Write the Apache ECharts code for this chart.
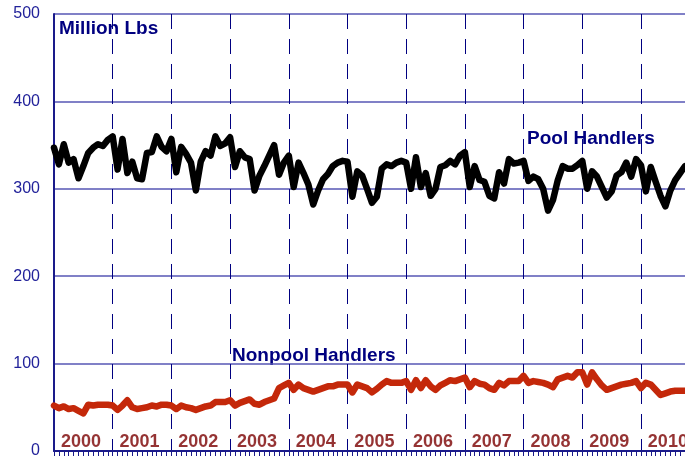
<!DOCTYPE html>
<html>
<head>
<meta charset="utf-8">
<script src="https://cdn.jsdelivr.net/npm/echarts@6/dist/echarts.min.js"></script>
<style>
html,body{margin:0;padding:0;background:#fff;}
#c{width:685px;height:459px;}
</style>
</head>
<body>
<div id="c"></div>
<script>
// ---- Data (monthly, Jan 2000 .. Oct 2010), million lbs ----
var years = ['2000','2001','2002','2003','2004','2005','2006','2007','2008','2009','2010'];
var yTicks = [0, 100, 200, 300, 400, 500];

var poolHandlers = [
  347, 328, 351, 330, 334, 312, 326, 341, 347, 351, 349, 356,
  360, 322, 357, 318, 331, 312, 311, 341, 342, 360, 348, 343,
  357, 319, 348, 340, 330, 298, 331, 343, 338, 360, 349, 352,
  359, 325, 343, 336, 334, 298, 315, 326, 338, 350, 316, 330,
  338, 302, 330, 318, 305, 282, 298, 311, 317, 326, 330, 332,
  331, 291, 320, 315, 300, 284, 291, 323, 328, 326, 330, 332,
  330, 300, 336, 302, 318, 292, 300, 325, 327, 332, 328, 338,
  342, 302, 326, 310, 308, 292, 289, 319, 306, 334, 329, 330,
  332, 309, 314, 311, 300, 275, 287, 310, 326, 323, 323, 327,
  332, 300, 320, 314, 302, 290, 297, 315, 319, 330, 314, 334,
  327, 297, 325, 308, 292, 280, 298, 310, 318, 326
];

var nonpoolHandlers = [
  52, 49, 51, 48, 49, 46, 43, 53, 52, 53, 53, 53,
  52, 47, 52, 58, 50, 48, 49, 50, 52, 51, 53, 53,
  52, 48, 52, 50, 49, 47, 49, 51, 52, 56, 56, 56,
  58, 52, 55, 57, 59, 54, 53, 56, 58, 60, 72, 75,
  78, 70, 76, 72, 70, 68, 70, 72, 74, 74, 76, 76,
  76, 67, 76, 74, 72, 67, 71, 76, 80, 78, 78, 78,
  80, 70, 81, 72, 81, 74, 70, 75, 78, 81, 80, 82,
  84, 73, 80, 77, 76, 72, 70, 78, 75, 80, 80, 80,
  86, 78, 80, 79, 78, 76, 73, 82, 84, 86, 84, 90,
  90, 76, 90, 82, 75, 70, 72, 74, 76, 77, 78, 80,
  72, 78, 76, 70, 64, 66, 68, 69, 69, 69
];

var seriesNames = ['Pool Handlers', 'Nonpool Handlers'];
var unitLabel = 'Million Lbs';
var yearLabelValue = 10; // vertical placement of year labels, in axis units

// ---- Build ----
var months = [];
for (var i = 0; i < poolHandlers.length; i++) {
  months.push(years[Math.floor(i / 12)] + '-' + ((i % 12) + 1));
}
var lastIdx = months.length - 1;
var yearPts = years.map(function (y, k) { return [k * 12 + 5.5, yearLabelValue, y]; });

var navy = '#000080';
var chart = echarts.init(document.getElementById('c'), null, {renderer: 'canvas'});
chart.setOption({
  animation: false,
  backgroundColor: '#ffffff',
  grid: {left: 54, right: 0, top: 14, bottom: 5, containLabel: false},
  xAxis: [{
    type: 'category',
    data: months,
    boundaryGap: false,
    axisLine: {show: true, lineStyle: {color: '#1a1a8a', width: 2}},
    axisTick: {show: true, interval: 0, length: 5, lineStyle: {color: '#1a1a8a', width: 1}},
    axisLabel: {show: false},
    splitLine: {
      show: true,
      interval: function (idx) { return idx % 12 === 0 && idx !== 0; },
      lineStyle: {color: navy, width: 1, type: [15, 10]}
    },
    z: 3
  }, {
    type: 'value', min: 0, max: lastIdx, show: false
  }],
  yAxis: {
    type: 'value',
    min: yTicks[0], max: yTicks[yTicks.length - 1], interval: 100,
    axisLine: {show: true, lineStyle: {color: '#1a1a8a', width: 2}},
    axisTick: {show: false},
    axisLabel: {color: '#22229a', fontSize: 16, fontFamily: 'Liberation Sans, Arial, sans-serif', margin: 14},
    splitLine: {show: true, lineStyle: {color: '#5656b4', width: 1.5}}
  },
  series: [{
    name: seriesNames[0], type: 'line', data: poolHandlers,
    symbol: 'none', lineStyle: {color: '#000000', width: 6.5, join: 'round', cap: 'round'},
    z: 5
  }, {
    name: seriesNames[1], type: 'line', data: nonpoolHandlers,
    symbol: 'none', lineStyle: {color: '#c4280a', width: 6.5, join: 'round', cap: 'round'},
    z: 5
  }, {
    type: 'scatter', xAxisIndex: 1, data: yearPts, symbolSize: 0,
    silent: true, clip: false,
    label: {
      show: true, position: 'inside',
      formatter: function (p) { return p.data[2]; },
      color: '#7a0000', fontSize: 18, fontWeight: 'bold',
      fontFamily: 'Liberation Sans, Arial, sans-serif'
    },
    labelLayout: {hideOverlap: false},
    z: 6
  }],
  graphic: [{
    type: 'text', left: 59, top: 19,
    style: {text: unitLabel, fill: navy, font: 'bold 19px "Liberation Sans", Arial, sans-serif'}
  }, {
    type: 'text', left: 527, top: 129,
    style: {text: seriesNames[0], fill: navy, font: 'bold 19px "Liberation Sans", Arial, sans-serif'}
  }, {
    type: 'text', left: 232, top: 346,
    style: {text: seriesNames[1], fill: navy, font: 'bold 19px "Liberation Sans", Arial, sans-serif'}
  }]
});
</script>
</body>
</html>
